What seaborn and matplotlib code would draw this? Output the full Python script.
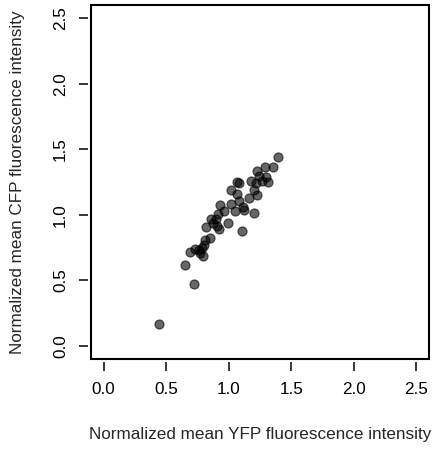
import matplotlib
matplotlib.use("Agg")
import matplotlib.pyplot as plt
from matplotlib.patches import Rectangle
import seaborn as sns
import pandas as pd

yfp = [1.396, 1.351, 1.292, 1.229, 1.245, 1.298, 1.311, 1.263, 1.216, 1.178,
       1.205, 1.229, 1.165, 1.080, 1.064, 1.017, 1.069, 1.080, 1.022, 0.932,
       0.966, 1.051, 1.112, 1.125, 1.202, 0.918, 0.900, 0.857, 0.878, 0.998,
       0.905, 0.926, 0.818, 1.104, 0.852, 0.812, 0.804, 0.786, 0.732, 0.687,
       0.772, 0.791, 0.647, 0.725, 0.440, 0.759]
cfp = [1.438, 1.367, 1.362, 1.334, 1.296, 1.286, 1.248, 1.260, 1.245, 1.260,
       1.189, 1.151, 1.126, 1.245, 1.248, 1.189, 1.156, 1.105, 1.082, 1.075,
       1.031, 1.031, 1.062, 1.037, 1.011, 1.006, 0.966, 0.966, 0.940, 0.940,
       0.915, 0.889, 0.905, 0.879, 0.826, 0.808, 0.770, 0.745, 0.737, 0.719,
       0.707, 0.686, 0.617, 0.473, 0.165, 0.732]
ticks = [0.0, 0.5, 1.0, 1.5, 2.0, 2.5]
tick_labels = ["0.0", "0.5", "1.0", "1.5", "2.0", "2.5"]
xlab = "Normalized mean YFP fluorescence intensity"
ylab = "Normalized mean CFP fluorescence intensity"

sns.set_style("white")
plt.rcParams["font.family"] = ["Liberation Sans", "DejaVu Sans"]

df = pd.DataFrame({"yfp": yfp, "cfp": cfp})
fig = plt.figure(figsize=(4.32, 4.5), dpi=100)
ax = fig.add_axes([91 / 432, 1 - 359 / 450, 338 / 432, 354 / 450])
sns.scatterplot(data=df, x="yfp", y="cfp", ax=ax, s=42, color="black",
                alpha=0.6, edgecolor="black", linewidth=0.9)
ax.set_xlim(-0.1, 2.6)
ax.set_ylim(-0.1, 2.6)
ax.set_xticks(ticks)
ax.set_xticklabels(tick_labels)
ax.set_yticks(ticks)
ax.set_yticklabels(tick_labels)
for s in ax.spines.values():
    s.set_visible(False)
ax.spines["bottom"].set_position(("outward", 2))
ax.spines["left"].set_position(("outward", 2))
ax.add_patch(Rectangle((0, 0), 1, 1, transform=ax.transAxes, fill=False,
                       lw=1.5, edgecolor="black", clip_on=False, zorder=5))
ax.tick_params(axis="both", direction="out", length=6.5, width=1.1,
               color="black", labelsize=12.3, labelcolor="black",
               bottom=True, left=True)
ax.tick_params(axis="x", pad=8)
ax.tick_params(axis="y", pad=8)
for lbl in ax.get_yticklabels():
    lbl.set_rotation(90)
    lbl.set_verticalalignment("center")
ax.set_xlabel(xlab, fontsize=12.3)
ax.set_ylabel(ylab, fontsize=12.3)
ax.xaxis.set_label_coords(0.5, -0.212)
ax.xaxis.label.set_verticalalignment("center")
ax.yaxis.set_label_coords(-0.216, 0.5)
ax.yaxis.label.set_verticalalignment("center")
ax.grid(False)
fig.savefig("out.png", dpi=100)
